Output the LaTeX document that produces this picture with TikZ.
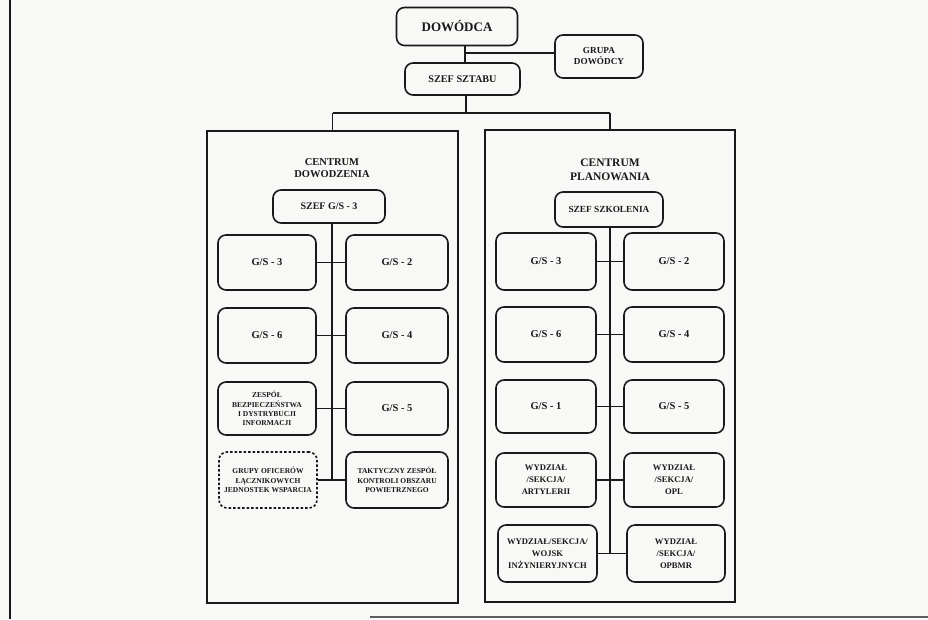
\documentclass[tikz,border=0pt]{standalone}
\usepackage{fontspec}
\setmainfont{Liberation Serif}
\definecolor{paper}{RGB}{248,248,246}
\definecolor{ink}{RGB}{25,25,25}
\begin{document}
\begin{tikzpicture}[x=1pt,y=-1pt,
  box/.style={draw=ink, text=ink, line width=1.6pt, rounded corners=8pt, align=center, inner sep=1pt, font=\bfseries\fontsize{10.5}{12}\selectfont},
  small/.style={font=\bfseries\fontsize{7.5}{9.3}\selectfont},
  mid/.style={font=\bfseries\fontsize{8.6}{12}\selectfont},
  cont/.style={draw=ink, line width=2.6pt, inner sep=0pt},
  title/.style={text=ink, align=center, inner sep=0pt},
  conn/.style={draw=ink, line width=1.1pt},
  lw/.style={minimum width=98pt},
  rw/.style={minimum width=102pt},
  rh/.style={minimum height=55pt}
]
\useasboundingbox (0,0) rectangle (928,619);
\fill[paper] (0,0) rectangle (928,619);
\draw[ink, line width=2pt] (10,0) -- (10,619);
\draw[ink!70, line width=2pt] (370,617) -- (928,617);

% top
\node[box, minimum width=121pt, minimum height=38pt, font=\bfseries\fontsize{13}{15}\selectfont] (dow) at (457,26.5) {DOWÓDCA};
\node[box, minimum width=88pt, minimum height=43pt, font=\bfseries\fontsize{9.2}{11}\selectfont] (grupa) at (599,56.5) {GRUPA\\DOWÓDCY};
\node[box, minimum width=115pt, minimum height=32pt, font=\bfseries\fontsize{10.2}{12}\selectfont] (szef) at (462.5,79) {SZEF SZTABU};
\coordinate (t1) at (465,45);
\coordinate (t2) at (465,53);
\coordinate (t3) at (466,113);
\draw[conn] (dow.south -| t1) -- (szef.north -| t1);
\draw[conn] (t2) -- (t2 -| grupa.west);

% containers
\node[cont, minimum width=251pt, minimum height=472pt] (cd) at (332.5,367) {};
\node[cont, minimum width=250pt, minimum height=472pt] (cp) at (610,366) {};
\draw[conn] (szef.south -| t3) -- (t3);
\draw[conn] (t3 -| cd.north) -- (t3 -| cp.north);
\draw[conn] (t3 -| cd.north) -- (cd.north);
\draw[conn] (t3 -| cp.north) -- (cp.north);

\node[title, font=\bfseries\fontsize{10.5}{12}\selectfont] (tcd) at (332,168) {CENTRUM\\DOWODZENIA};
\node[title, font=\bfseries\fontsize{11.5}{13.5}\selectfont] (tcp) at (610,170) {CENTRUM\\PLANOWANIA};

% left column
\node[box, minimum width=112pt, minimum height=33pt, font=\bfseries\fontsize{10}{12}\selectfont] (sg3) at (329,206.5) {SZEF G/S - 3};
\node[box, lw, rh] (l1a) at (267,262.5) {G/S - 3};
\node[box, rw, rh] (l1b) at (397,262.5) {G/S - 2};
\node[box, lw, rh] (l2a) at (267,335.5) {G/S - 6};
\node[box, rw, rh] (l2b) at (397,335.5) {G/S - 4};
\node[box, lw, minimum height=53pt, small] (l3a) at (267,408.5) {ZESPÓŁ\\BEZPIECZEŃSTWA\\I DYSTRYBUCJI\\INFORMACJI};
\node[box, rw, minimum height=53pt] (l3b) at (397,408.5) {G/S - 5};
\node[box, lw, minimum height=56pt, small, dashed, dash pattern=on 2.5pt off 2pt] (l4a) at (268,480) {GRUPY OFICERÓW\\ŁĄCZNIKOWYCH\\JEDNOSTEK WSPARCIA};
\node[box, rw, minimum height=56pt, small] (l4b) at (397,480) {TAKTYCZNY ZESPÓŁ\\KONTROLI OBSZARU\\POWIETRZNEGO};
\coordinate (lt) at (332,480);
\draw[conn] (sg3.south -| lt) -- (lt);
\draw[conn] (l1a) -- (l1b);
\draw[conn] (l2a) -- (l2b);
\draw[conn] (l3a) -- (l3b);
\draw[conn] (l4a) -- (l4b);

% right column
\node[box, minimum width=108pt, minimum height=35pt, font=\bfseries\fontsize{9.3}{11}\selectfont] (ssz) at (609,209.5) {SZEF SZKOLENIA};
\node[box, minimum width=100pt, minimum height=57pt] (r1a) at (546,261.5) {G/S - 3};
\node[box, minimum width=100pt, minimum height=57pt] (r1b) at (674,261.5) {G/S - 2};
\node[box, minimum width=100pt, rh] (r2a) at (546,334.5) {G/S - 6};
\node[box, minimum width=100pt, rh] (r2b) at (674,334.5) {G/S - 4};
\node[box, minimum width=100pt, minimum height=53pt] (r3a) at (546,406.5) {G/S - 1};
\node[box, minimum width=100pt, minimum height=53pt] (r3b) at (674,406.5) {G/S - 5};
\node[box, minimum width=100pt, minimum height=54pt, mid] (r4a) at (546,480) {WYDZIAŁ\\/SEKCJA/\\ARTYLERII};
\node[box, minimum width=100pt, minimum height=54pt, mid] (r4b) at (674,480) {WYDZIAŁ\\/SEKCJA/\\OPL};
\node[box, minimum width=99pt, minimum height=57pt, mid] (r5a) at (547.5,553.5) {WYDZIAŁ/SEKCJA/\\WOJSK\\INŻYNIERYJNYCH};
\node[box, minimum width=98pt, minimum height=57pt, mid] (r5b) at (676,553.5) {WYDZIAŁ\\/SEKCJA/\\OPBMR};
\coordinate (rt) at (610,553.5);
\draw[conn] (ssz.south -| rt) -- (rt);
\draw[conn] (r1a) -- (r1b);
\draw[conn] (r2a) -- (r2b);
\draw[conn] (r3a) -- (r3b);
\draw[conn] (r4a) -- (r4b);
\draw[conn] (r5a) -- (r5b);
\end{tikzpicture}
\end{document}
